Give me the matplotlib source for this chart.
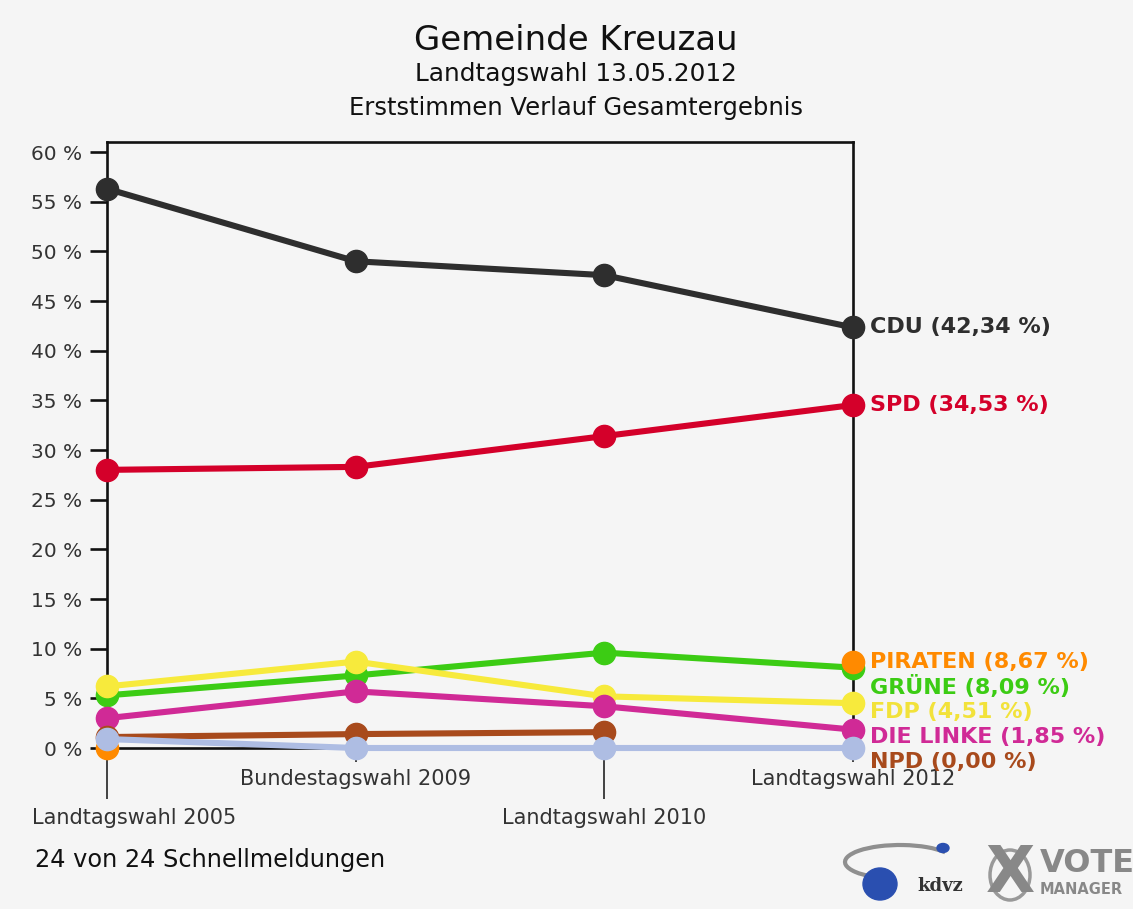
import matplotlib
matplotlib.use("Agg")
import matplotlib.pyplot as plt
import matplotlib.transforms as mtransforms
from matplotlib.patches import Ellipse, Arc
import numpy as np

plt.rcParams['font.family'] = ['DejaVu Sans']

# ---------------- data ----------------
elections = ["Landtagswahl 2005", "Bundestagswahl 2009", "Landtagswahl 2010", "Landtagswahl 2012"]
cdu = [56.3, 49.0, 47.6, 42.34]
spd = [28.0, 28.3, 31.4, 34.53]
gruene = [5.3, 7.3, 9.6, 8.09]
fdp = [6.2, 8.7, 5.2, 4.51]
linke = [3.0, 5.7, 4.2, 1.85]
piraten = [0.0, None, None, 8.67]
npd = [1.1, 1.4, 1.6, None]
sonstige = [0.9, 0.0, 0.0, 0.0]

party_names = ["CDU", "SPD", "PIRATEN", "GRÜNE", "FDP", "DIE LINKE", "NPD"]
final_values = ["42,34", "34,53", "8,67", "8,09", "4,51", "1,85", "0,00"]

yticks = [0, 5, 10, 15, 20, 25, 30, 35, 40, 45, 50, 55, 60]
ytick_labels = [f"{v} %" for v in yticks]

title = "Gemeinde Kreuzau"
subtitle1 = "Landtagswahl 13.05.2012"
subtitle2 = "Erststimmen Verlauf Gesamtergebnis"
footer = "24 von 24 Schnellmeldungen"

# ---------------- colours ----------------
c_cdu = "#2e2e2e"
c_spd = "#d4002a"
c_gruene = "#3ccc14"
c_fdp = "#f7ea3c"
c_linke = "#d02a96"
c_piraten = "#ff8a00"
c_npd = "#a84a1c"
c_sonst = "#aebde3"
bg = "#f5f5f5"

W, H = 1133, 909
fig = plt.figure(figsize=(W / 100, H / 100), dpi=100, facecolor=bg)

def fx(px):
    return px / W

def fy(py):
    return 1 - py / H

left, right, top, bottom = 107, 853, 142, 748
ax = fig.add_axes([fx(left), fy(bottom), fx(right - left), (bottom - top) / H])
ax.set_facecolor(bg)

x = np.arange(len(elections))
ax.set_xlim(0, 3)
ax.set_ylim(0, 60 + (152 - top) / ((bottom - 152) / 60))

def series(vals):
    return np.array([np.nan if v is None else v for v in vals], dtype=float)

lw = 4.4
ms = 16
plot_order = [
    (cdu, c_cdu), (spd, c_spd), (gruene, c_gruene), (fdp, c_fdp),
    (linke, c_linke), (piraten, c_piraten), (npd, c_npd), (sonstige, c_sonst),
]
for i, (vals, col) in enumerate(plot_order):
    ax.plot(x, series(vals), color=col, lw=lw, marker="o", ms=ms,
            solid_capstyle="round", clip_on=False, zorder=3 + i)

for s in ax.spines.values():
    s.set_linewidth(1.9)
    s.set_color("#111111")
    s.set_zorder(2)

ax.set_yticks(yticks)
ax.set_yticklabels(ytick_labels, fontsize=14.5, color="#333333")
ax.tick_params(axis="y", direction="out", length=12, width=1.9, color="#111111", pad=6)

ax.set_xticks([0, 2])
ax.set_xticks([1, 3], minor=True)
ax.set_xticklabels([])
ax.tick_params(axis="x", which="major", direction="out", length=37, width=1.1, color="#111111")
ax.tick_params(axis="x", which="minor", direction="out", length=10, width=1.1, color="#111111")

# x labels, staggered
def off(dx, dy):
    return mtransforms.ScaledTranslation(dx / 100, dy / 100, fig.dpi_scale_trans)

xtrans = ax.get_xaxis_transform()
for i, lab in enumerate(elections):
    if i % 2 == 0:
        dy = -(818 - bottom)
    else:
        dy = -(779 - bottom)
    dx = 27 if i == 0 else 0
    ax.text(x[i], 0, lab, transform=xtrans + off(dx, dy), ha="center", va="center",
            fontsize=15, color="#333333", clip_on=False)

# right-hand labels
label_colors = [c_cdu, c_spd, c_piraten, c_gruene, "#f2e23a", c_linke, c_npd]
anchor_vals = [cdu[-1], spd[-1], piraten[-1], piraten[-1], piraten[-1], piraten[-1], piraten[-1]]
stack_offsets = [0, 0, 0, -25, -50, -75, -100]
for name, val, col, av, so in zip(party_names, final_values, label_colors, anchor_vals, stack_offsets):
    ax.text(x[-1], av, f"{name} ({val} %)", transform=ax.transData + off(17, so),
            ha="left", va="center", fontsize=16, fontweight="bold", color=col,
            clip_on=False, zorder=20)

# titles
fig.text(fx(576), fy(41), title, ha="center", va="center", fontsize=24.5, color="#111111")
fig.text(fx(576), fy(74), subtitle1, ha="center", va="center", fontsize=17.8, color="#111111")
fig.text(fx(576), fy(108), subtitle2, ha="center", va="center", fontsize=17.5, color="#111111")
fig.text(fx(35), fy(860), footer, ha="left", va="center", fontsize=17.3, color="#111111")

# logo approximation
fig.patches.append(Arc((fx(900), fy(862)), fx(110), 34 / H, theta1=15, theta2=215,
                       transform=fig.transFigure, color="#8f8f8f", lw=3))
fig.patches.append(Ellipse((fx(880), fy(884)), fx(34), 32 / H, transform=fig.transFigure,
                           color="#2a4fb0", zorder=5))
fig.patches.append(Ellipse((fx(943), fy(848)), fx(12), 9 / H, transform=fig.transFigure,
                           color="#2a4fb0", zorder=5))
fig.text(fx(940), fy(886), "kdvz", ha="center", va="center", fontsize=13,
         fontweight="bold", family="DejaVu Serif", color="#333333")
fig.patches.append(Ellipse((fx(1010), fy(875)), fx(40), 50 / H, transform=fig.transFigure,
                           fill=False, ec="#999999", lw=2.5, zorder=4))
fig.text(fx(1010), fy(874), "X", ha="center", va="center", fontsize=46,
         fontweight="bold", color="#888888", zorder=6)
fig.text(fx(1040), fy(864), "VOTE", ha="left", va="center", fontsize=23,
         fontweight="bold", color="#888888")
fig.text(fx(1040), fy(889), "MANAGER", ha="left", va="center", fontsize=10.5,
         fontweight="bold", color="#888888")

fig.savefig("out.png", dpi=100, facecolor=bg)
